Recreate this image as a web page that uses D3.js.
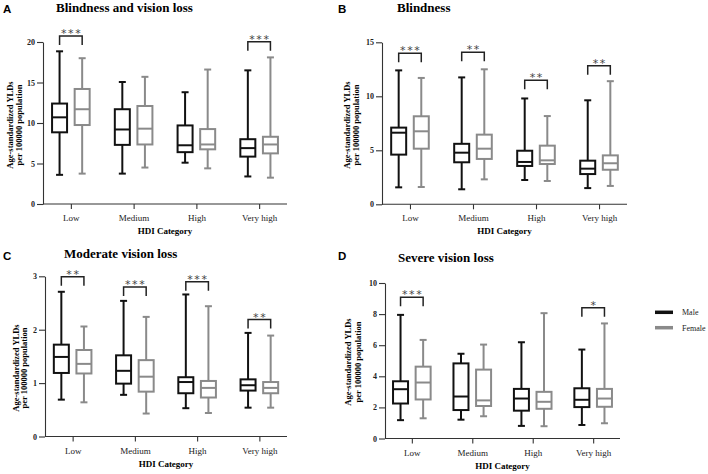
<!DOCTYPE html>
<html>
<head>
<meta charset="utf-8">
<script src="https://cdn.jsdelivr.net/npm/d3@7"></script>
<style>
  body { margin: 0; background: #fff; }
</style>
</head>
<body>
<div id="main"></div>
<script>
// categories shared by every panel
const hdiCategories = ["Low", "Medium", "High", "Very high"];
const sexes = ["Male", "Female"];

// box stats per category: [min, q1, median, q3, max]
const blindVisionMale = [[3.6, 8.85, 10.7, 12.4, 18.85], [3.75, 7.3, 9.2, 11.7, 15.06], [5.1, 6.4, 7.25, 9.7, 13.8], [3.4, 5.85, 6.9, 8.0, 16.5]];
const blindVisionFemale = [[3.75, 9.75, 11.7, 14.2, 18.0], [4.5, 7.35, 9.3, 12.1, 15.7], [4.4, 6.75, 7.35, 9.25, 16.6], [3.25, 6.25, 7.35, 8.3, 18.1]];
const blindVisionSig = ["***", "", "", "***"];
const blindVisionBracket = [20.74, null, null, 20.04];

const blindnessMale = [[1.57, 4.6, 6.63, 7.1, 12.4], [1.39, 3.89, 4.78, 5.6, 11.75], [2.25, 3.55, 3.92, 4.96, 9.8], [1.5, 2.8, 3.3, 4.04, 9.63]];
const blindnessFemale = [[1.6, 5.15, 6.76, 8.15, 11.7], [2.31, 4.2, 5.15, 6.45, 12.5], [2.16, 3.73, 4.07, 5.43, 8.17], [1.7, 3.2, 3.8, 4.53, 11.4]];
const blindnessSig = ["***", "**", "**", "**"];
const blindnessBracket = [13.98, 14.07, 11.48, 12.83];

const moderateMale = [[0.69, 1.19, 1.49, 1.72, 2.71], [0.78, 0.99, 1.23, 1.52, 2.54], [0.53, 0.81, 1.02, 1.11, 2.66], [0.54, 0.86, 0.96, 1.07, 1.94]];
const moderateFemale = [[0.64, 1.18, 1.36, 1.62, 2.06], [0.43, 0.84, 1.12, 1.43, 2.24], [0.44, 0.73, 0.91, 1.04, 2.44], [0.54, 0.81, 0.91, 1.02, 1.89]];
const moderateSig = ["**", "***", "***", "**"];
const moderateBracket = [2.99, 2.80, 2.90, 2.19];

const severeMale = [[1.18, 2.25, 3.17, 3.68, 7.95], [1.21, 1.83, 2.7, 4.83, 5.45], [0.81, 1.79, 2.57, 3.19, 6.19], [0.87, 2.02, 2.49, 3.23, 5.72]];
const severeFemale = [[1.3, 2.51, 3.6, 4.62, 6.34], [1.43, 2.09, 2.45, 4.43, 6.04], [0.79, 1.91, 2.36, 3.0, 8.06], [0.98, 2.04, 2.57, 3.19, 7.4]];
const severeSig = ["***", "", "", "*"];
const severeBracket = [9.08, null, null, 8.41];

const colors = { Male: "#111111", Female: "#8a8a8a" };
const SERIF = "'Liberation Serif', 'Times New Roman', Times, serif";

const panels = [
  { letter: "A", title: "Blindness and vision loss", ymax: 20, ticks: [0, 5, 10, 15, 20],
    male: blindVisionMale, female: blindVisionFemale, sig: blindVisionSig, bracket: blindVisionBracket,
    x0: 43, x1: 287, yTop: 42, yBot: 204, letterX: 3, letterY: 12.5, titleX: 56, titleY: 11.5,
    labX: [10, 19], labY: 125 },
  { letter: "B", title: "Blindness", ymax: 15, ticks: [0, 5, 10, 15],
    male: blindnessMale, female: blindnessFemale, sig: blindnessSig, bracket: blindnessBracket,
    x0: 382, x1: 627, yTop: 42.3, yBot: 204.3, letterX: 338, letterY: 12.5, titleX: 397, titleY: 11.5,
    labX: [347, 356], labY: 125 },
  { letter: "C", title: "Moderate vision loss", ymax: 3, ticks: [0, 1, 2, 3],
    male: moderateMale, female: moderateFemale, sig: moderateSig, bracket: moderateBracket,
    x0: 45, x1: 287, yTop: 276.3, yBot: 436.5, letterX: 3, letterY: 260, titleX: 64, titleY: 258,
    labX: [16, 24], labY: 368 },
  { letter: "D", title: "Severe vision loss", ymax: 10, ticks: [0, 2, 4, 6, 8, 10],
    male: severeMale, female: severeFemale, sig: severeSig, bracket: severeBracket,
    x0: 385, x1: 620, yTop: 283, yBot: 438.5, letterX: 338, letterY: 260, titleX: 398, titleY: 262,
    labX: [348, 358], labY: 362 }
];

const svg = d3.select("#main").append("svg")
  .attr("width", 708).attr("height", 474)
  .style("font-family", SERIF);

function drawPanel(p) {
  const g = svg.append("g");
  const x = d3.scalePoint().domain(hdiCategories).range([p.x0, p.x1]).padding(0.444);
  const y = d3.scaleLinear().domain([0, p.ymax]).range([p.yBot, p.yTop]);
  const boxW = 15, capW = 7, offset = 11.3;

  // axes
  const yAxis = g.append("g").attr("transform", `translate(${p.x0},0)`)
    .call(d3.axisLeft(y).tickValues(p.ticks).tickSize(6).tickSizeOuter(0).tickPadding(2).tickFormat(d3.format("d")));
  yAxis.attr("font-family", SERIF);
  yAxis.selectAll("text").style("font-size", "8px").style("font-weight", "bold").attr("fill", "#222");
  const xAxis = g.append("g").attr("transform", `translate(0,${p.yBot})`)
    .call(d3.axisBottom(x).tickSize(5).tickSizeOuter(0).tickPadding(4));
  xAxis.attr("font-family", SERIF);
  xAxis.select(".domain").attr("d", `M${p.x0},0H${p.x1}`);
  xAxis.selectAll("text").style("font-size", "9px").attr("fill", "#222").attr("dy", "0.9em");
  g.selectAll(".domain, .tick line").attr("stroke", "#333").attr("stroke-width", 1.1);

  // boxes
  const rows = [];
  hdiCategories.forEach((c, i) => {
    rows.push({ cat: c, sex: "Male", s: p.male[i], cx: x(c) - offset });
    rows.push({ cat: c, sex: "Female", s: p.female[i], cx: x(c) + offset });
  });
  const bx = g.selectAll("g.box").data(rows).enter().append("g").attr("class", "box")
    .attr("stroke", d => colors[d.sex]).attr("stroke-width", 2).attr("fill", "none");
  bx.append("line").attr("x1", d => d.cx).attr("x2", d => d.cx)
    .attr("y1", d => y(d.s[0])).attr("y2", d => y(d.s[1]));
  bx.append("line").attr("x1", d => d.cx).attr("x2", d => d.cx)
    .attr("y1", d => y(d.s[3])).attr("y2", d => y(d.s[4]));
  bx.append("line").attr("x1", d => d.cx - capW / 2).attr("x2", d => d.cx + capW / 2)
    .attr("y1", d => y(d.s[0])).attr("y2", d => y(d.s[0]));
  bx.append("line").attr("x1", d => d.cx - capW / 2).attr("x2", d => d.cx + capW / 2)
    .attr("y1", d => y(d.s[4])).attr("y2", d => y(d.s[4]));
  bx.append("rect").attr("x", d => d.cx - boxW / 2).attr("width", boxW)
    .attr("y", d => y(d.s[3])).attr("height", d => y(d.s[1]) - y(d.s[3]));
  bx.append("line").attr("x1", d => d.cx - boxW / 2).attr("x2", d => d.cx + boxW / 2)
    .attr("y1", d => y(d.s[2])).attr("y2", d => y(d.s[2]));

  // significance brackets
  hdiCategories.forEach((c, i) => {
    if (!p.sig[i]) return;
    const top = y(p.bracket[i]);
    const l = x(c) - offset, r = x(c) + offset;
    g.append("path").attr("d", `M${l},${top + 9}V${top}H${r}V${top + 9}`)
      .attr("fill", "none").attr("stroke", "#222").attr("stroke-width", 1.5);
    g.append("text").attr("x", x(c) + 0.8).attr("y", top + 1).attr("text-anchor", "middle")
      .style("font-family", "'DejaVu Sans', sans-serif").style("font-size", "11px")
      .style("letter-spacing", "1.6px").attr("fill", "#444")
      .text(p.sig[i]);
  });

  // labels
  g.append("text").attr("x", p.letterX).attr("y", p.letterY)
    .style("font-family", "'Liberation Sans', Arial, sans-serif").style("font-weight", "bold").style("font-size", "11.5px")
    .text(p.letter);
  g.append("text").attr("x", p.titleX).attr("y", p.titleY)
    .style("font-weight", "bold").style("font-size", "13px").text(p.title);
  ["Age-standardized YLDs", "per 100000 population"].forEach((t, k) => {
    g.append("text").attr("transform", `translate(${p.labX[k] + 3},${p.labY}) rotate(-90)`)
      .attr("text-anchor", "middle").style("font-weight", "bold").style("font-size", "8.5px").text(t);
  });
  g.append("text").attr("x", (p.x0 + p.x1) / 2).attr("y", p.yBot + 30)
    .attr("text-anchor", "middle").style("font-weight", "bold").style("font-size", "9px").text("HDI Category");
}

panels.forEach(drawPanel);

// legend
const legend = svg.append("g").selectAll("g").data(sexes).enter().append("g")
  .attr("transform", (d, i) => `translate(655,${312.3 + i * 15.4})`);
legend.append("line").attr("x1", 0).attr("x2", 18).attr("stroke", d => colors[d]).attr("stroke-width", 3.5);
legend.append("text").attr("x", 27).attr("y", 3).style("font-size", "8px").attr("fill", "#222").text(d => d);
</script>
</body>
</html>
